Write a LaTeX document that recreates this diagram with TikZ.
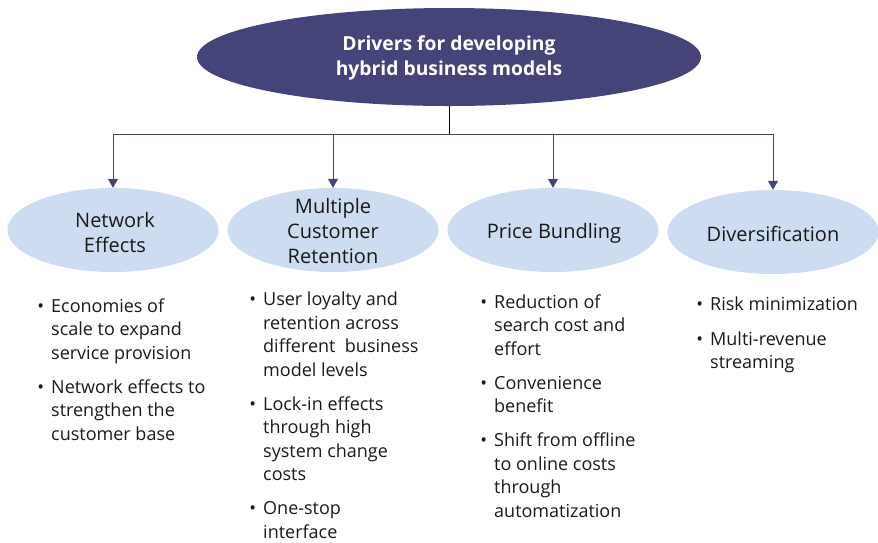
\documentclass[tikz,border=0pt]{standalone}
\usepackage{fontspec}
\setmainfont{Open Sans}
\usetikzlibrary{shapes.geometric,arrows.meta}
\definecolor{navy}{RGB}{68,68,120}
\definecolor{lblue}{RGB}{205,220,240}
\definecolor{txt}{RGB}{26,26,26}
\newcommand\bul{\llap{\textbullet\hspace{7pt}}}
\begin{document}
\begin{tikzpicture}[x=1pt,y=-1pt,
  topell/.style={ellipse, fill=navy, draw=none, minimum width=504pt, minimum height=98pt, inner sep=0pt},
  subell/.style={ellipse, fill=lblue, draw=none, minimum width=211pt, minimum height=84pt, inner sep=0pt},
  toptext/.style={text=white, font=\fontsize{19.3}{25}\selectfont\bfseries, align=center, inner sep=0pt},
  subtext/.style={text=txt, font=\fontsize{20}{25}\selectfont, align=center, inner sep=0pt},
  bullets/.style={text=txt, font=\fontsize{18}{23.5}\selectfont, align=left, anchor=base west, inner sep=0pt},
  link/.style={draw=navy, line width=1pt},
  arr/.style={link, -{Triangle[width=10pt,length=9pt]}}
]
\useasboundingbox (0,0) rectangle (878,542);
\node[topell] (top) at (449,57) {};
\node[toptext] (toptxt) at (449,58) {Drivers for developing\\hybrid business models};
\node[subell] (e1) at (113,230) {};
\node[subell] (e2) at (333,230) {};
\node[subell] (e3) at (553,230) {};
\node[subell] (e4) at (773,232) {};
\node[subtext] (t1) at (115,232) {Network\\Effects};
\node[subtext] (t2) at (333,231) {Multiple\\Customer\\Retention};
\node[subtext] (t3) at (554,233) {Price Bundling};
\node[subtext] (t4) at (773,234) {Diversification};
\coordinate (hub) at (449,134);
\draw[black, line width=0.8pt] (top.south) -- (hub);
\draw[link] (e1.north |- hub) -- (e4.north |- hub);
\foreach \e in {e1,e2,e3,e4} \draw[arr] (\e.north |- hub) -- (\e.north);
% anchors are at the baseline of each column's last line
\node[bullets] (b1) at (51,440) {\bul Economies of\\scale to expand\\service provision\\[10.5pt]\bul Network effects to\\strengthen the\\customer base};
\node[bullets] (b2) at (263,538) {\bul User loyalty and\\retention across\\different\ \ business\\model levels\\[10.5pt]\bul Lock-in effects\\through high\\system change\\costs\\[10.5pt]\bul One-stop\\interface};
\node[bullets] (b3) at (494,517) {\bul Reduction of\\search cost and\\effort\\[10.5pt]\bul Convenience\\benefit\\[10.5pt]\bul Shift from offline\\to online costs\\through\\automatization};
\node[bullets] (b4) at (710,368.5) {\bul Risk minimization\\[11.5pt]\bul Multi-revenue\\streaming};
\end{tikzpicture}
\end{document}
